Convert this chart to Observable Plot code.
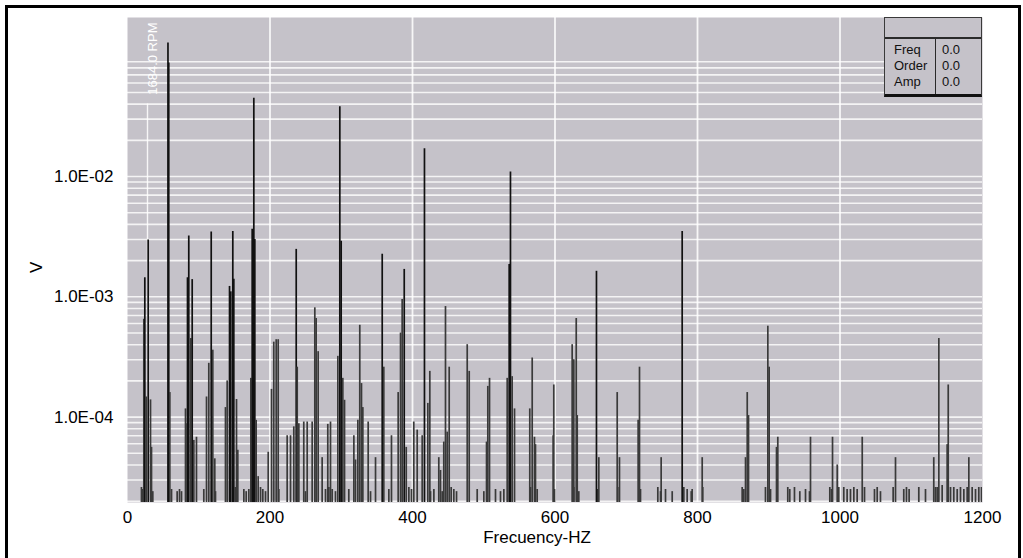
<!DOCTYPE html>
<html>
<head>
<meta charset="utf-8">
<script src="https://cdn.jsdelivr.net/npm/d3@7"></script>
<script src="https://cdn.jsdelivr.net/npm/@observablehq/plot@0.6"></script>
<style>
  html, body { margin: 0; padding: 0; background: #fff; }
  #wrap { position: relative; width: 1023px; height: 558px; overflow: hidden;
          font-family: "Liberation Sans", Arial, sans-serif; }
  #frame { position: absolute; left: 5px; top: 5px; width: 1016px; height: 640px;
           border: 3px solid #000; box-sizing: border-box; }
  #chart { position: absolute; left: 0; top: 0; }
  #readout { position: absolute; left: 884px; top: 17px; width: 98px; height: 80px;
             box-sizing: border-box; background: #c5c2c9;
             border-top: 1px solid #3a3a3a; border-left: 1px solid #3a3a3a;
             border-right: 1px solid #3a3a3a; border-bottom: 3px solid #111;
             font-size: 13px; color: #111; }
  #readout .hdr { position: absolute; left: 0; top: 0; right: 0; height: 19px;
                  border-bottom: 2px solid #2a2a2a; }
  #readout .div { position: absolute; left: 50px; top: 21px; bottom: 0; width: 1px; background: #2a2a2a; }
  #readout .lab { position: absolute; left: 9px; line-height: 16px; }
  #readout .val { position: absolute; left: 57px; line-height: 16px; }
</style>
</head>
<body>
<div id="wrap">
  <div id="frame"></div>
  <div id="chart"></div>
  <div id="readout"></div>
</div>
<script>
// ---- data ----
const xTicks = [0, 200, 400, 600, 800, 1000, 1200];
const xGridLines = [200, 400, 600, 800, 1000];
const yTicks = [1e-4, 1e-3, 1e-2];
const yDomain = [1.95e-5, 0.21];
const xLabel = "Frecuency-HZ";
const yLabel = "V";
const rpmLabel = "1684.0 RPM";
const rpmFreq = 1684 / 60;
const rpmMarkerTop = 0.04;
const readoutLabels = ["Freq", "Order", "Amp"];
const readoutValues = ["0.0", "0.0", "0.0"];

const peakFreq = [
  22.9, 24.3, 26.2, 29.0, 32.3, 33.7, 56.8, 57.9, 59.4, 81.4,
  83.8, 84.2, 86.0, 88.8, 90.8, 93.1, 96.8, 110.9, 114.1, 117.5,
  119.7, 122.5, 137.5, 139.9, 143.2, 145.0, 147.8, 149.2, 153.0, 154.8,
  173.1, 175.0, 177.3, 178.7, 180.6, 183.4, 197.5, 202.1, 205.3, 208.7,
  211.5, 224.1, 228.8, 233.4, 236.8, 238.2, 240.5, 247.4, 252.2, 259.2,
  262.9, 264.8, 267.6, 273.2, 281.1, 284.9, 295.2, 298.0, 299.9, 302.2,
  304.6, 317.7, 320.0, 323.3, 326.0, 328.4, 330.3, 337.8, 348.1, 357.5,
  359.7, 370.5, 379.9, 383.2, 385.5, 388.4, 391.2, 401.8, 406.6, 413.6,
  416.8, 421.5, 424.3, 436.9, 439.3, 443.9, 446.3, 448.7, 451.5, 476.8,
  479.6, 503.9, 505.7, 508.1, 532.9, 535.7, 537.5, 539.9, 543.2, 564.6,
  568.0, 571.2, 572.6, 597.4, 598.3, 624.1, 626.4, 629.8, 631.2, 658.2,
  661.5, 687.3, 690.5, 716.7, 718.6, 749.0, 778.5, 806.6, 867.4, 869.8,
  871.6, 898.7, 900.6, 910.9, 912.7, 958.6, 989.5, 996.1, 1031.2, 1077.9,
  1131.6, 1138.7, 1150.4, 1151.9, 1180.8
];
const peakAmp = [
  6.5e-4, 1.44e-3, 1.47e-4, 2.97e-3, 1.39e-4, 5.6e-5, 0.129, 0.088, 1.6e-4, 1.17e-4,
  8.8e-5, 1.44e-3, 3.2e-3, 4.5e-4, 1.39e-3, 6.4e-5, 6.8e-5, 1.47e-4, 2.8e-4, 3.46e-3,
  3.6e-4, 4.5e-5, 1.2e-4, 2.0e-4, 1.22e-3, 1.1e-3, 3.5e-3, 1.4e-3, 1.4e-4, 5.3e-5,
  2.1e-4, 3.65e-3, 0.0447, 3.0e-3, 9.4e-5, 3.2e-5, 5.1e-5, 1.7e-4, 4.2e-4, 4.4e-4,
  4.4e-4, 7.0e-5, 7.0e-5, 8.3e-5, 2.48e-3, 2.6e-4, 8.8e-5, 9.1e-5, 9.1e-5, 9.1e-5,
  8.1e-4, 6.6e-4, 3.5e-4, 4.6e-5, 8.7e-5, 9.1e-5, 3.2e-4, 0.038, 2.9e-3, 2.1e-4,
  1.38e-4, 7.0e-5, 4.4e-5, 9.4e-5, 5.8e-4, 1.9e-4, 1.2e-4, 9.1e-5, 4.6e-5, 2.26e-3,
  2.6e-4, 7.0e-5, 1.6e-4, 5.0e-4, 9.5e-4, 1.69e-3, 5.6e-5, 9.1e-5, 7.8e-5, 7.0e-5,
  0.017, 1.3e-4, 2.4e-4, 4.6e-5, 3.6e-5, 6.2e-5, 8.3e-4, 7.5e-5, 2.6e-4, 4.0e-4,
  2.4e-4, 6.2e-5, 1.8e-4, 2.1e-4, 2.1e-4, 1.86e-3, 0.0109, 2.17e-4, 1.17e-4, 1.17e-4,
  3.1e-4, 6.8e-5, 5.9e-5, 7.0e-5, 1.85e-4, 4.0e-4, 3.0e-4, 6.6e-4, 1.03e-4, 1.63e-3,
  4.6e-5, 1.6e-4, 4.6e-5, 9.4e-5, 2.6e-4, 4.6e-5, 3.5e-3, 4.6e-5, 4.6e-5, 1.6e-4,
  1.03e-4, 5.7e-4, 2.6e-4, 5.6e-5, 6.8e-5, 6.8e-5, 6.8e-5, 4.0e-5, 6.8e-5, 4.6e-5,
  4.6e-5, 4.5e-4, 5.9e-5, 1.85e-4, 4.6e-5
];

const floorFreq = [
  19.6, 21.5, 35.5, 61.8, 69.7, 73.0, 75.8, 107.1, 123.5, 151.6,
  163.3, 166.6, 170.3, 186.7, 189.9, 193.7, 212.4, 249.8, 277.9, 282.6,
  287.3, 291.9, 310.6, 341.1, 366.8, 394.9, 398.6, 425.3, 430.0, 441.7,
  454.3, 458.0, 461.8, 490.8, 500.1, 516.5, 523.5, 528.2, 565.6, 575.0,
  599.3, 626.4, 633.4, 660.1, 688.1, 720.0, 744.3, 748.1, 755.1, 764.5,
  780.8, 785.5, 791.2, 792.5, 807.4, 862.7, 865.0, 895.4, 902.5, 926.7,
  929.5, 936.1, 943.6, 951.6, 957.2, 985.7, 988.1, 998.3, 1005.3, 1010.0,
  1014.7, 1019.4, 1024.1, 1034.4, 1048.4, 1052.2, 1056.8, 1074.6, 1089.5, 1093.3,
  1097.0, 1110.6, 1120.0, 1134.0, 1136.4, 1143.4, 1155.1, 1159.7, 1164.5, 1169.1,
  1173.8, 1178.5, 1185.5, 1190.2, 1194.8, 1198.6
];
const floorAmp = [
  2.6e-5, 2.5e-5, 2.4e-5, 2.5e-5, 2.4e-5, 2.5e-5, 2.4e-5, 2.5e-5, 2.4e-5, 2.6e-5,
  2.5e-5, 2.4e-5, 2.5e-5, 2.6e-5, 2.5e-5, 2.4e-5, 2.5e-5, 2.4e-5, 2.5e-5, 2.6e-5,
  2.5e-5, 2.4e-5, 2.5e-5, 2.4e-5, 2.5e-5, 2.6e-5, 2.5e-5, 2.4e-5, 2.5e-5, 2.4e-5,
  2.6e-5, 2.5e-5, 2.4e-5, 2.5e-5, 2.4e-5, 2.5e-5, 2.4e-5, 2.5e-5, 2.6e-5, 2.5e-5,
  2.5e-5, 2.6e-5, 2.4e-5, 2.5e-5, 2.6e-5, 2.5e-5, 2.6e-5, 2.4e-5, 2.5e-5, 2.4e-5,
  2.6e-5, 2.5e-5, 2.4e-5, 2.5e-5, 2.6e-5, 2.6e-5, 2.5e-5, 2.6e-5, 2.5e-5, 2.6e-5,
  2.5e-5, 2.6e-5, 2.4e-5, 2.5e-5, 2.4e-5, 2.6e-5, 2.5e-5, 2.6e-5, 2.6e-5, 2.5e-5,
  2.5e-5, 2.6e-5, 2.5e-5, 2.6e-5, 2.5e-5, 2.6e-5, 2.4e-5, 2.6e-5, 2.5e-5, 2.6e-5,
  2.5e-5, 2.6e-5, 2.5e-5, 2.6e-5, 2.6e-5, 2.7e-5, 2.6e-5, 2.6e-5, 2.5e-5, 2.6e-5,
  2.5e-5, 2.6e-5, 2.6e-5, 2.5e-5, 2.6e-5, 2.6e-5
];

// ---- build ----
const peaks = d3.range(Math.min(peakFreq.length, peakAmp.length))
  .map(i => ({f: peakFreq[i], a: peakAmp[i]}));
const floors = d3.range(Math.min(floorFreq.length, floorAmp.length))
  .map(i => ({f: floorFreq[i], a: floorAmp[i]}));

const yGrid = d3.range(-5, -1)
  .flatMap(e => d3.range(1, 10).map(m => m * Math.pow(10, e)))
  .filter(v => v > yDomain[0] && v < yDomain[1]);

const fmtE = d => {
  const e = Math.round(Math.log10(d));
  return "1.0E" + (e < 0 ? "-" : "+") + String(Math.abs(e)).padStart(2, "0");
};

const bg = "#c5c2c9";
const strongLine = "#111111";
const weakLine = "#3a3a3a";
const toneOf = d => d.a >= 1e-3 ? strongLine : weakLine;

const chart = Plot.plot({
  width: 1023,
  height: 558,
  marginLeft: 127,
  marginRight: 41,
  marginTop: 17,
  marginBottom: 56,
  style: {background: "transparent", fontFamily: "'Liberation Sans', Arial, sans-serif", fontSize: "17px", color: "#000"},
  x: {domain: [0, 1200]},
  y: {type: "log", domain: yDomain},
  marks: [
    Plot.frame({fill: bg, stroke: null}),
    Plot.gridY(yGrid, {stroke: "#ffffff", strokeOpacity: 0.8, strokeWidth: 1.6}),
    Plot.gridX(xGridLines, {stroke: "#ffffff", strokeOpacity: 0.85, strokeWidth: 1.8}),
    Plot.ruleX([rpmFreq], {y1: rpmMarkerTop, y2: yDomain[0], stroke: "#ffffff", strokeWidth: 1.4, strokeOpacity: 0.85}),
    Plot.text([rpmLabel], {x: rpmFreq, frameAnchor: "top", rotate: -90, textAnchor: "end", dy: 5, fill: "#ffffff", fontSize: 13}),
    Plot.ruleX(floors, {x: "f", y1: yDomain[0], y2: "a", stroke: weakLine, strokeWidth: 1.7, clip: true}),
    Plot.ruleX(peaks, {x: "f", y1: yDomain[0], y2: "a", stroke: toneOf, strokeWidth: 1.7, clip: true}),
    Plot.axisX(xTicks, {tickSize: 0, tickPadding: 8, tickFormat: d => String(d), label: null, fontSize: 17}),
    Plot.axisY(yTicks, {tickSize: 0, tickPadding: 14, tickFormat: fmtE, label: null, fontSize: 17}),
    Plot.text([xLabel], {frameAnchor: "bottom", dx: -18, dy: 40, fontSize: 17, fill: "#000"}),
    Plot.text([yLabel], {frameAnchor: "left", rotate: -90, dx: -91, dy: 13, fontSize: 17, fill: "#000"})
  ]
});
document.getElementById("chart").appendChild(chart);

// ---- readout box (legend-like panel) ----
const box = document.getElementById("readout");
const hdr = document.createElement("div"); hdr.className = "hdr"; box.appendChild(hdr);
const dv = document.createElement("div"); dv.className = "div"; box.appendChild(dv);
readoutLabels.forEach((t, i) => {
  const l = document.createElement("div"); l.className = "lab"; l.textContent = t;
  l.style.top = (24 + i * 16) + "px"; box.appendChild(l);
  const v = document.createElement("div"); v.className = "val"; v.textContent = readoutValues[i];
  v.style.top = (24 + i * 16) + "px"; box.appendChild(v);
});
</script>
</body>
</html>
